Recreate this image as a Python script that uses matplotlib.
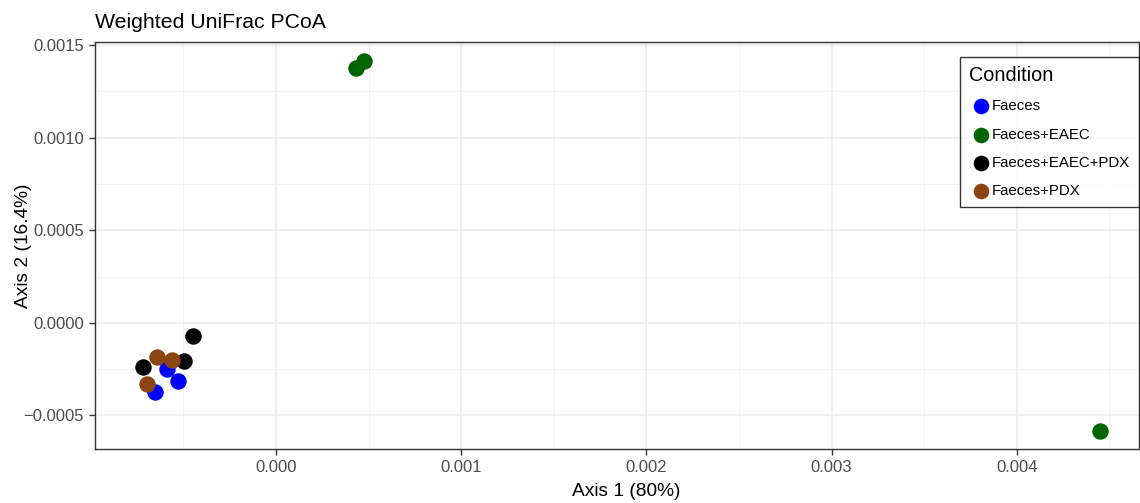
import numpy as np
import matplotlib
matplotlib.use("Agg")
import matplotlib.pyplot as plt
from matplotlib.ticker import FixedLocator, FuncFormatter

plt.rcParams['font.family'] = ['Liberation Sans', 'DejaVu Sans']

# PCoA coordinates
conditions = ['Faeces', 'Faeces+EAEC', 'Faeces+EAEC+PDX', 'Faeces+PDX']
colors = ['#0000FF', '#006400', '#000000', '#8B4513']
axis1 = {
    'Faeces': [-0.000590, -0.000531, -0.000652],
    'Faeces+EAEC': [0.000432, 0.000475, 0.004449],
    'Faeces+EAEC+PDX': [-0.000447, -0.000720, -0.000497],
    'Faeces+PDX': [-0.000641, -0.000560, -0.000698],
}
axis2 = {
    'Faeces': [-0.000250, -0.000314, -0.000375],
    'Faeces+EAEC': [0.001373, 0.001416, -0.000584],
    'Faeces+EAEC+PDX': [-0.0000686, -0.000239, -0.000205],
    'Faeces+PDX': [-0.000185, -0.000200, -0.000331],
}
xticks = [0.0, 0.001, 0.002, 0.003, 0.004]
yticks = [-0.0005, 0.0, 0.0005, 0.0010, 0.0015]

fig = plt.figure(figsize=(11.4, 5.03), dpi=100)
ax = fig.add_axes([95 / 1140, 54 / 503, 1044 / 1140, 407 / 503])

for cond, col in zip(conditions, colors):
    ax.scatter(axis1[cond], axis2[cond], s=140, color=col, label=cond,
               linewidths=0, zorder=3)

ax.set_xlim(-0.000977, 0.00466)
ax.set_ylim(-0.000681, 0.001516)

ax.xaxis.set_major_locator(FixedLocator(xticks))
ax.yaxis.set_major_locator(FixedLocator(yticks))
ax.xaxis.set_minor_locator(FixedLocator([-0.0005, 0.0005, 0.0015, 0.0025, 0.0035, 0.0045]))
ax.yaxis.set_minor_locator(FixedLocator([-0.00025, 0.00025, 0.00075, 0.00125]))


def fmt(dec):
    def f(v, pos):
        s = f"{v:.{dec}f}"
        if float(s) == 0:
            s = s.lstrip('-')
        return s.replace('-', '\u2212')
    return f


ax.xaxis.set_major_formatter(FuncFormatter(fmt(3)))
ax.yaxis.set_major_formatter(FuncFormatter(fmt(4)))

ax.grid(which='major', color='#EBEBEB', linewidth=1.1, zorder=0)
ax.grid(which='minor', color='#F2F2F2', linewidth=0.6, zorder=0)
ax.set_axisbelow(True)

ax.tick_params(which='major', length=4, width=1, color='#333333',
               labelsize=12, labelcolor='#4D4D4D', pad=4)
ax.tick_params(which='minor', length=0)
for sp in ax.spines.values():
    sp.set_color('#333333')
    sp.set_linewidth(1)

ax.set_xlabel('Axis 1 (80%)', fontsize=13.8)
ax.xaxis.set_label_coords(0.5086, -0.083)
ax.set_ylabel('Axis 2 (16.4%)', fontsize=13.8)
ax.yaxis.set_label_coords(-0.06, 0.5)
ax.set_title('Weighted UniFrac PCoA', fontsize=15.3, loc='left', pad=10)

leg = ax.legend(title='Condition', loc='upper right', bbox_to_anchor=(1.0, 0.963),
                borderaxespad=0.0, fontsize=10.8, title_fontsize=14.3,
                frameon=True, fancybox=False,
                handletextpad=0.0, labelspacing=0.95, borderpad=0.6,
                handlelength=1.5, markerscale=0.95)
leg.get_frame().set_edgecolor('black')
leg.get_frame().set_linewidth(1)
leg._legend_box.align = 'left'

fig.savefig('out.png', dpi=100)
